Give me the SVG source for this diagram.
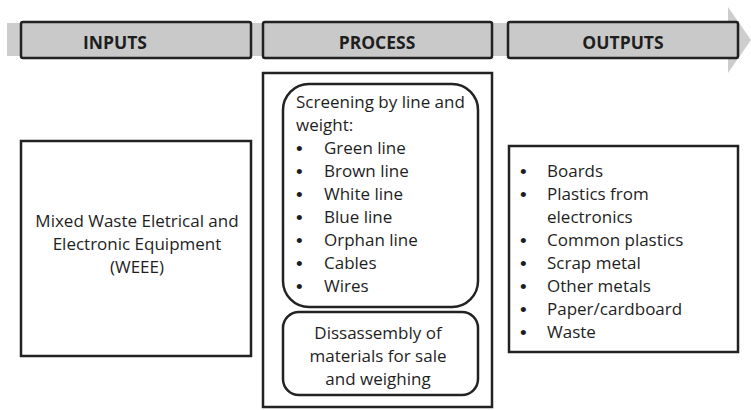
<svg xmlns="http://www.w3.org/2000/svg" width="751" height="410" viewBox="0 0 751 410">
  <style>
    .box { fill: #ffffff; stroke: #222222; stroke-width: 2.5; }
    .hdr { fill: #c9c9c9; stroke: #222222; stroke-width: 2.5; }
    .band { fill: #cdcdcd; }
    .t { font-family: "Open Sans", Lato, "Liberation Sans", sans-serif; font-size: 17px; fill: #1e1e1e; }
    .b { font-family: "Liberation Sans", sans-serif; font-size: 19px; fill: #1e1e1e; }
    .h { font-family: "Open Sans", Lato, "Liberation Sans", sans-serif; font-size: 17.5px; font-weight: bold; fill: #1e1e1e; }
    .c { text-anchor: middle; }
  </style>

  <!-- flow arrow behind the stage headers -->
  <g id="flow-arrow">
    <polygon class="band" points="7,23 728,23 728,7 751,40 728,73 728,56 7,56"/>
  </g>

  <g id="inputs-header">
    <rect class="hdr" x="21" y="22" width="230" height="36" rx="2"/>
    <text class="h c" x="115" y="49">INPUTS</text>
  </g>
  <g id="process-header">
    <rect class="hdr" x="263" y="22" width="229" height="36" rx="2"/>
    <text class="h c" x="377" y="49">PROCESS</text>
  </g>
  <g id="outputs-header">
    <rect class="hdr" x="508" y="22" width="230" height="36" rx="2"/>
    <text class="h c" x="623" y="49">OUTPUTS</text>
  </g>

  <g id="inputs">
    <rect class="box" x="21" y="141" width="230" height="215"/>
    <text class="t c" x="137" y="227">Mixed Waste Eletrical and</text>
    <text class="t c" x="137" y="250">Electronic Equipment</text>
    <text class="t c" x="137" y="273">(WEEE)</text>
  </g>

  <g id="process">
    <rect class="box" x="263" y="73" width="229" height="334"/>
  </g>

  <g id="screening">
    <rect class="box" x="283" y="84" width="195" height="223" rx="26"/>
    <text class="t" x="296" y="108">Screening by line and</text>
    <text class="t" x="296" y="131">weight:</text>
    <g class="b">
      <text x="296" y="155">•</text>
      <text x="296" y="178">•</text>
      <text x="296" y="201">•</text>
      <text x="296" y="224">•</text>
      <text x="296" y="247">•</text>
      <text x="296" y="270">•</text>
      <text x="296" y="293">•</text>
    </g>
    <g class="t">
      <text x="324" y="154">Green line</text>
      <text x="324" y="177">Brown line</text>
      <text x="324" y="200">White line</text>
      <text x="324" y="223">Blue line</text>
      <text x="324" y="246">Orphan line</text>
      <text x="324" y="269">Cables</text>
      <text x="324" y="292">Wires</text>
    </g>
  </g>

  <g id="disassembly">
    <rect class="box" x="283" y="312" width="195" height="83" rx="16"/>
    <text class="t c" x="378" y="339">Dissassembly of</text>
    <text class="t c" x="378" y="362">materials for sale</text>
    <text class="t c" x="378" y="385">and weighing</text>
  </g>

  <g id="outputs">
    <rect class="box" x="509" y="146" width="229" height="206"/>
    <g class="b">
      <text x="520" y="178">•</text>
      <text x="520" y="201">•</text>
      <text x="520" y="247">•</text>
      <text x="520" y="270">•</text>
      <text x="520" y="293">•</text>
      <text x="520" y="316">•</text>
      <text x="520" y="339">•</text>
    </g>
    <g class="t">
      <text x="547" y="177">Boards</text>
      <text x="547" y="200">Plastics from</text>
      <text x="547" y="223">electronics</text>
      <text x="547" y="246">Common plastics</text>
      <text x="547" y="269">Scrap metal</text>
      <text x="547" y="292">Other metals</text>
      <text x="547" y="315">Paper/cardboard</text>
      <text x="547" y="338">Waste</text>
    </g>
  </g>

  <!-- no connectors besides the flow arrow -->
  <g id="connectors"/>
</svg>
